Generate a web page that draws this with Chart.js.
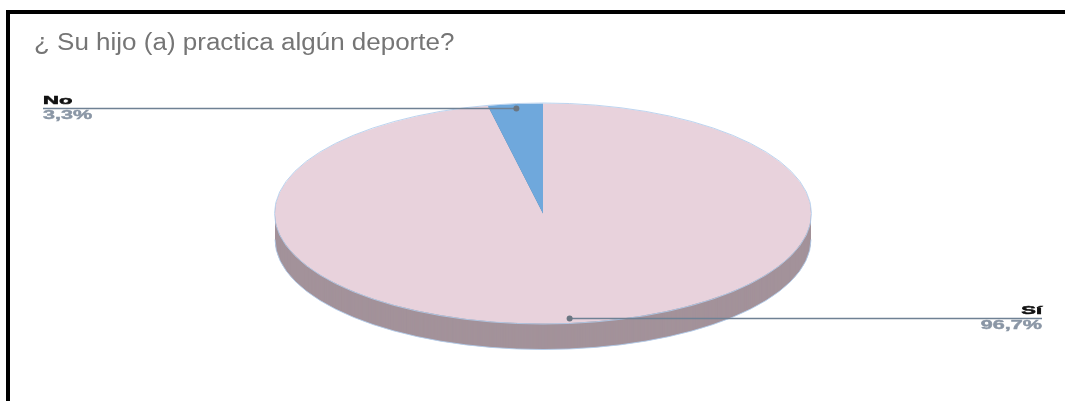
<!DOCTYPE html>
<html>
<head>
<meta charset="utf-8">
<script src="https://cdn.jsdelivr.net/npm/chart.js@4.4.1/dist/chart.umd.min.js"></script>
<style>
  html, body { margin: 0; padding: 0; background: #fff; }
  #wrap { position: relative; width: 1065px; height: 401px; overflow: hidden; }
  #frame { position: absolute; left: 6px; top: 10px; width: 1200px; height: 600px;
           border-top: 4px solid #000; border-left: 4px solid #000; }
  canvas { position: absolute; left: 0; top: 0; }
</style>
</head>
<body>
<div id="wrap">
  <div id="frame"></div>
  <canvas id="c" width="1065" height="401"></canvas>
</div>
<script>
// Survey answers (percent of respondents)
const chartTitle = '¿ Su hijo (a) practica algún deporte?';
const categories = ['Sí', 'No'];
const percentages = [96.7, 3.3];

// Slice colours: top face and side wall
const topColors = ['#e8d2dc', '#6fa8dc'];
const sideColors = ['#a3929a', '#4d7ea8'];

const FONT = "'Liberation Sans', Arial, Helvetica, sans-serif";

// Pseudo-3D geometry: the round pie is squashed vertically and given a thickness
const RADIUS = 268;
const TILT = 110 / 268;
const DEPTH = 26;
const CENTER_Y = 213.5;

const fmtPct = v => v.toFixed(1).replace('.', ',') + '%';

function applyTilt(ctx, arc, offset) {
  ctx.translate(0, CENTER_Y + offset);
  ctx.scale(1, TILT);
  ctx.translate(0, -arc.y);
}

// text drawn with a horizontal stretch (wide lettering), optionally thickened
function wideText(ctx, text, x, y, stretch, heavy) {
  ctx.save();
  ctx.translate(x, y);
  ctx.scale(stretch, 1);
  ctx.fillText(text, 0, 0);
  if (heavy) {
    ctx.lineWidth = heavy;
    ctx.strokeStyle = ctx.fillStyle;
    ctx.strokeText(text, 0, 0);
  }
  ctx.restore();
}

const pie3d = {
  id: 'pie3d',
  beforeDatasetsDraw(chart) {
    const ctx = chart.ctx;
    const arcs = chart.getDatasetMeta(0).data;
    const a0 = arcs[0];

    // heading
    ctx.save();
    ctx.font = '23px ' + FONT;
    ctx.fillStyle = '#757575';
    ctx.textAlign = 'left';
    ctx.textBaseline = 'alphabetic';
    wideText(ctx, chartTitle, 34, 50, 1.13, 0);
    ctx.restore();

    // side wall: stacked copies of the slices below the top face
    for (let o = DEPTH; o > 0; o--) {
      ctx.save();
      applyTilt(ctx, a0, o);
      arcs.forEach((arc, i) => {
        ctx.beginPath();
        ctx.moveTo(arc.x, arc.y);
        ctx.arc(arc.x, arc.y, arc.outerRadius, arc.startAngle, arc.endAngle);
        ctx.closePath();
        ctx.fillStyle = sideColors[i];
        ctx.fill();
      });
      ctx.restore();
    }

    // faint rim along the lower silhouette
    ctx.save();
    ctx.strokeStyle = 'rgba(178, 204, 236, 0.85)';
    ctx.lineWidth = 1;
    ctx.beginPath();
    ctx.ellipse(a0.x, CENTER_Y + DEPTH, a0.outerRadius, a0.outerRadius * TILT, 0, 0, Math.PI);
    ctx.stroke();
    ctx.restore();

    // top face is drawn by the library inside the tilted frame
    ctx.save();
    applyTilt(ctx, a0, 0);
  },
  afterDatasetsDraw(chart) {
    const ctx = chart.ctx;
    ctx.restore();
    const arcs = chart.getDatasetMeta(0).data;
    const a0 = arcs[0];

    ctx.save();
    ctx.strokeStyle = 'rgba(178, 204, 236, 0.85)';
    ctx.lineWidth = 1;
    ctx.beginPath();
    ctx.ellipse(a0.x, CENTER_Y, a0.outerRadius + 0.5, a0.outerRadius * TILT + 0.5, 0, 0, Math.PI * 2);
    ctx.stroke();
    ctx.restore();

    // leader lines with category name and percentage
    arcs.forEach((arc, i) => {
      const mid = (arc.startAngle + arc.endAngle) / 2;
      const r = arc.outerRadius * 0.96;
      const px = arc.x + Math.cos(mid) * r;
      const py = CENTER_Y + Math.sin(mid) * r * TILT;
      const left = px < arc.x;
      const endX = left ? 43 : 1042;

      ctx.save();
      ctx.strokeStyle = '#6f8194';
      ctx.lineWidth = 1.5;
      ctx.beginPath();
      ctx.moveTo(px, py);
      ctx.lineTo(endX, py);
      ctx.stroke();
      ctx.fillStyle = '#6b7682';
      ctx.beginPath();
      ctx.arc(px, py, 3, 0, Math.PI * 2);
      ctx.fill();

      ctx.textAlign = left ? 'left' : 'right';
      ctx.font = 'bold 11px ' + FONT;
      ctx.fillStyle = '#111';
      ctx.textBaseline = 'alphabetic';
      wideText(ctx, categories[i], endX, py - 4.5, 2.0, 0.5);
      ctx.fillStyle = '#8a96a5';
      ctx.textBaseline = 'top';
      ctx.font = 'bold 12px ' + FONT;
      wideText(ctx, fmtPct(percentages[i]), endX, py + 1.5, 1.8, 0.4);
      ctx.restore();
    });
  }
};

new Chart(document.getElementById('c'), {
  type: 'pie',
  data: {
    labels: categories,
    datasets: [{
      data: percentages,
      backgroundColor: topColors,
      borderWidth: 0,
      radius: RADIUS,
      clip: false
    }]
  },
  options: {
    responsive: false,
    animation: false,
    layout: { padding: { left: 40, right: 19, top: 0, bottom: 0 } },
    plugins: {
      legend: { display: false },
      tooltip: { enabled: false },
      title: { display: false }
    }
  },
  plugins: [pie3d]
});
</script>
</body>
</html>
